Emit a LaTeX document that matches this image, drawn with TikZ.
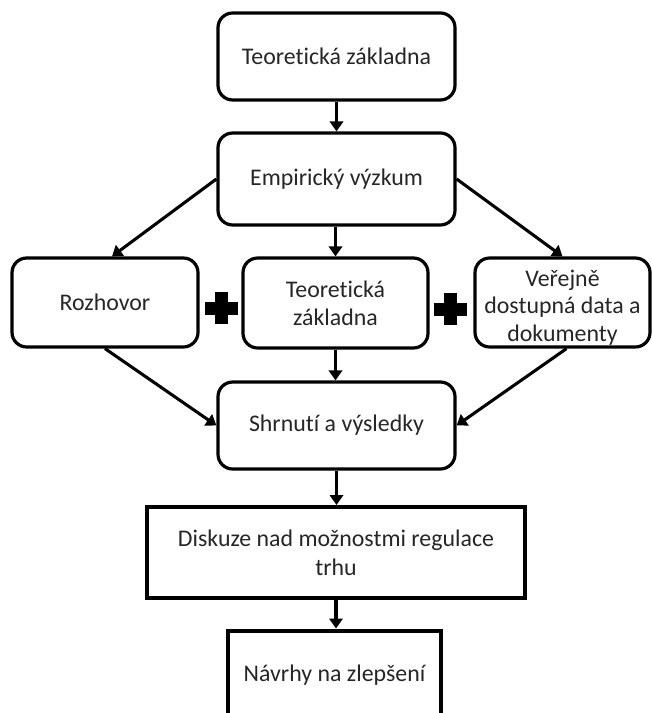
\documentclass[tikz,border=0pt]{standalone}
\usepackage{fontspec}
\setmainfont{Carlito}[Ligatures=CommonOff]
\usetikzlibrary{arrows.meta}

\tikzset{
  roundbox/.style={draw=black, line width=2.4pt, rounded corners=11pt,
    align=center, text=black!85, font=\fontsize{17.9}{20.8}\selectfont,
    inner sep=0pt},
  squarebox/.style={draw=black, line width=3pt,
    align=center, text=black!85, font=\fontsize{17.9}{21.5}\selectfont,
    inner sep=0pt},
  flow/.style={line width=2.3pt, -{Triangle[length=7.5pt,width=10pt]}},
  plusbar/.style={fill=black}
}

\begin{document}
\begin{tikzpicture}[x=0.75pt, y=-0.75pt]
  \useasboundingbox (0,0) rectangle (652,713);
  \clip (0,0) rectangle (652,713);

  % main column and side sources
  \node[roundbox, minimum width=177.75pt, minimum height=65.25pt] (teorie) at (336.5,56.5) {Teoretická základna};
  \node[roundbox, minimum width=177.75pt, minimum height=69pt] (empirie) at (336.5,179) {Empirický výzkum};
  \node[roundbox, minimum width=139.5pt, minimum height=66.75pt] (rozhovor) at (105,302.5) {Rozhovor};
  \node[roundbox, minimum width=138.75pt, minimum height=67.5pt] (zaklad) at (335.5,303) {Teoretická\\ základna};
  % the strut on the first line lowers the three-line block a little
  \node[roundbox, minimum width=131.25pt, minimum height=66.75pt] (data) at (562.5,302.5) {\rule{0pt}{20pt}Veřejně\\ dostupná data a\\ dokumenty};
  \node[roundbox, minimum width=177.75pt, minimum height=65.25pt] (shrnuti) at (336.5,425.5) {Shrnutí a výsledky};
  \node[squarebox, minimum width=283.5pt, minimum height=68.25pt] (diskuze) at (336,552.5) {Diskuze nad možnostmi regulace\\ trhu};
  \node[squarebox, minimum width=159.75pt, minimum height=67.5pt] (navrhy) at (334.5,675.5) {Návrhy na zlepšení};

  % connectors
  \draw[flow] (teorie) -- (empirie);
  \draw[flow] (empirie.west) -- ([xshift=5.25pt]rozhovor.north);
  \draw[flow] (empirie.south -| zaklad.north) -- (zaklad.north);
  \draw[flow] (empirie.east) -- (data.north);
  \draw[flow] (zaklad.south) -- (zaklad.south |- shrnuti.north);
  \draw[flow] (rozhovor.south) -- (shrnuti.west);
  \draw[flow] ([xshift=3pt]data.south) -- (shrnuti.east);
  \draw[flow] (shrnuti.south) -- (shrnuti.south |- diskuze.north);
  \draw[flow] (diskuze.south) -- (diskuze.south |- navrhy.north);

  % plus signs between the three sources
  \coordinate (plusA) at (221,308);
  \coordinate (plusB) at (450,309);
  \foreach \p in {plusA,plusB}{
    \fill[plusbar] ([shift={(-16.5,-6.5)}]\p) rectangle ([shift={(16.5,6.5)}]\p);
    \fill[plusbar] ([shift={(-6.5,-16)}]\p) rectangle ([shift={(6.5,16)}]\p);
  }
\end{tikzpicture}
\end{document}
